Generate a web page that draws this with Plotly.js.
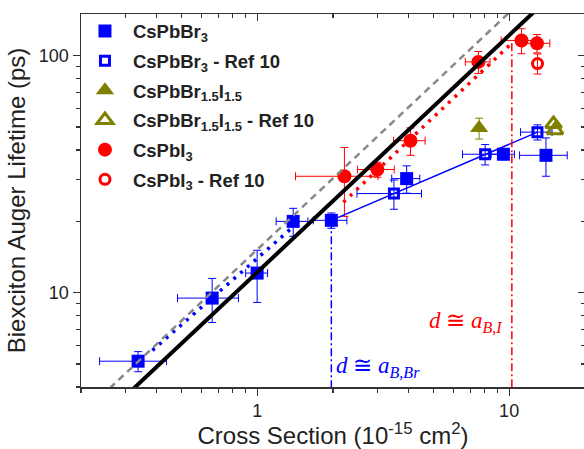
<!DOCTYPE html>
<html><head><meta charset="utf-8">
<script src="https://cdn.plot.ly/plotly-3.0.1.min.js"></script>
<style>html,body{margin:0;padding:0;overflow:hidden;background:#fff}#chart{width:590px;height:449px}</style>
</head><body><div id="chart"></div>
<script>
// ---- data ----
// CsPbBr3 (this work)
const brX    = [0.337, 0.663, 1.0, 1.39, 1.97, 3.92, 9.49, 14.0];
const brY    = [5.14, 9.49, 12.1, 20.0, 20.2, 30.3, 38.4, 38.0];
const brXerr = [0.10, 0.18, 0.10, 0.20, 0.30, 0.50, 1.0, 3.0];
const brYerr = [0.5, 2.0, 3.0, 2.7, 1.5, 4.0, 2.0, 7.0];
// CsPbBr3 - Ref 10
const brRefX    = [3.49, 8.03, 12.95];
const brRefY    = [26.2, 38.4, 47.6];
const brRefXerr = [1.0, 1.5, 1.85];
const brRefYerr = [3.7, 3.8, 3.5];
// CsPbBr1.5I1.5
const mixX = [7.6];
const mixY = [49.5];
const mixYerr = [5.0];
// CsPbBr1.5I1.5 - Ref 10
const mixRefX = [15.0, 15.2];
const mixRefY = [51.5, 48.5];
// CsPbI3
const iX    = [2.22, 3.0, 4.06, 7.55, 11.2, 12.9];
const iY    = [31.0, 33.1, 43.8, 94.2, 116.0, 112.8];
const iXerr = [0.8, 0.5, 0.58, 0.85, 1.9, 1.6];
const iYerr = [10, 2.4, 5.8, 10, 14, 10];
// CsPbI3 - Ref 10
const iRefX = [12.96];
const iRefY = [92.7];
const iRefYerr = [9];
// fit / guide lines (endpoints)
const grayX = [0.26, 10.0],  grayY = [3.95, 152];
const blackX = [0.32, 12.5], blackY = [3.9, 152.5];
const brDotX = [0.384, 1.4], brDotY = [5.71, 19.1];
const iDotX = [2.2, 10.25],  iDotY = [24.1, 113];
const brFitX = [1.97, 12.95], brFitY = [20.2, 47.6];
const brVX = [1.97, 1.97], brVY = [20.2, 3.9];
const iVX = [10.25, 10.25], iVY = [113, 3.9];
// axes
const xRange = [0.2, 20], yRange = [4, 150];
const xMajor = [1, 10], xMajorText = ['1', '10'];
const yMajor = [10, 100], yMajorText = ['10', '100'];
const xMinor = [0.2,0.3,0.4,0.5,0.6,0.7,0.8,0.9,2,3,4,5,6,7,8,9,20];
const yMinor = [4,5,6,7,8,9,20,30,40,50,60,70,80,90];
const names = ['CsPbBr<sub>3</sub>', 'CsPbBr<sub>3</sub> - Ref 10',
  'CsPbBr<sub>1.5</sub>I<sub>1.5</sub>', 'CsPbBr<sub>1.5</sub>I<sub>1.5</sub> - Ref 10',
  'CsPbI<sub>3</sub>', 'CsPbI<sub>3</sub> - Ref 10'];

const BLUE = '#0000ff', RED = '#ff0000', OLIVE = '#808000';
function eb(arr, color){ return {type:'data', array:arr, visible:true, color:color, thickness:1, width:4}; }

const traces = [
  {x:brX, y:brY, name:names[0], legendgroup:'a', mode:'markers', type:'scatter',
   marker:{symbol:'square', size:13, color:BLUE}, error_x:eb(brXerr,BLUE), error_y:eb(brYerr,BLUE)},
  {x:brRefX, y:brRefY, name:names[1], legendgroup:'b', mode:'markers', type:'scatter',
   marker:{symbol:'square-open', size:9, color:BLUE, line:{width:3, color:BLUE}}, error_x:eb(brRefXerr,BLUE), error_y:eb(brRefYerr,BLUE)},
  {x:mixX, y:mixY, name:names[2], legendgroup:'c', mode:'markers', type:'scatter',
   marker:{symbol:'triangle-up', size:16, color:OLIVE}, error_y:eb(mixYerr,OLIVE)},
  {x:mixRefX, y:mixRefY, name:names[3], legendgroup:'d', mode:'markers', type:'scatter',
   marker:{symbol:'triangle-up-open', size:14, color:OLIVE, line:{width:3, color:OLIVE}}},
  {x:iX, y:iY, name:names[4], legendgroup:'e', mode:'markers', type:'scatter',
   marker:{symbol:'circle', size:14, color:RED}, error_x:eb(iXerr,RED), error_y:eb(iYerr,RED)},
  {x:iRefX, y:iRefY, name:names[5], legendgroup:'f', mode:'markers', type:'scatter',
   marker:{symbol:'circle-open', size:10, color:RED, line:{width:3, color:RED}}, error_y:eb(iRefYerr,RED)},
  // guide lines on top
  {x:brFitX, y:brFitY, mode:'lines', showlegend:false, line:{color:BLUE, width:1.5}},
  {x:brVX, y:brVY, mode:'lines', showlegend:false, line:{color:BLUE, width:1.5, dash:'8px,3px,2px,3px'}},
  {x:iVX, y:iVY, mode:'lines', showlegend:false, line:{color:RED, width:1.5, dash:'8px,3px,2px,3px'}},
  {x:brDotX, y:brDotY, mode:'lines', showlegend:false, line:{color:BLUE, width:3.5, dash:'3px,6px'}},
  {x:iDotX, y:iDotY, mode:'lines', showlegend:false, line:{color:RED, width:3.5, dash:'3px,6px'}},
  {x:grayX, y:grayY, mode:'lines', showlegend:false, line:{color:'#888888', width:2.5, dash:'7px,5px'}},
  {x:blackX, y:blackY, mode:'lines', showlegend:false, line:{color:'#000000', width:4}},
  // carrier for mirrored tick axes
  {x:[brX[0]], y:[brY[0]], xaxis:'x2', yaxis:'y2', mode:'markers', showlegend:false, hoverinfo:'skip', marker:{opacity:0}}
];

const lg = v => Math.log10(v);
const axCommon = {type:'log', showgrid:false, zeroline:false, tickcolor:'#333', tickwidth:1.2};
const layout = {
  width:590, height:449,
  margin:{l:81, r:5, t:14, b:62, pad:0},
  paper_bgcolor:'#fff', plot_bgcolor:'#fff',
  font:{family:'Liberation Sans, Arial, sans-serif', color:'#222'},
  xaxis:Object.assign({}, axCommon, {
    range:[lg(xRange[0]), lg(xRange[1])],
    tickmode:'array', tickvals:xMajor, ticktext:xMajorText, ticks:'outside', ticklen:7,
    minor:{tickmode:'array', tickvals:xMinor, ticks:'outside', ticklen:4, tickcolor:'#333', tickwidth:1.2},
    showline:true, linecolor:'#333', linewidth:1.5, mirror:true,
    tickfont:{size:18, color:'#222'},
    title:{text:'Cross Section (10<sup>-15</sup> cm<sup>2</sup>)', font:{size:24, color:'#222'}, standoff:4}
  }),
  yaxis:Object.assign({}, axCommon, {
    range:[lg(yRange[0]), lg(yRange[1])],
    tickmode:'array', tickvals:yMajor, ticktext:yMajorText, ticks:'outside', ticklen:7,
    minor:{tickmode:'array', tickvals:yMinor, ticks:'outside', ticklen:4, tickcolor:'#333', tickwidth:1.2},
    showline:true, linecolor:'#333', linewidth:1.5, mirror:true,
    tickfont:{size:18, color:'#222'},
    title:{text:'Biexciton Auger Lifetime (ps)', font:{size:24, color:'#222'}, standoff:6}
  }),
  xaxis2:Object.assign({}, axCommon, {
    overlaying:'x', side:'top', anchor:'y', range:[lg(xRange[0]), lg(xRange[1])],
    tickmode:'array', tickvals:xMajor, ticks:'inside', ticklen:7, showticklabels:false, showline:false,
    minor:{tickmode:'array', tickvals:xMinor, ticks:'inside', ticklen:4, tickcolor:'#333', tickwidth:1.2}
  }),
  yaxis2:Object.assign({}, axCommon, {
    overlaying:'y', side:'right', anchor:'x', range:[lg(yRange[0]), lg(yRange[1])],
    tickmode:'array', tickvals:yMajor, ticks:'inside', ticklen:7, showticklabels:false, showline:false,
    minor:{tickmode:'array', tickvals:yMinor, ticks:'inside', ticklen:4, tickcolor:'#333', tickwidth:1.2}
  }),
  showlegend:true,
  legend:{x:-0.008, y:1.004, xanchor:'left', yanchor:'top', bgcolor:'rgba(0,0,0,0)', itemwidth:46,
    font:{family:'Liberation Sans, Arial, sans-serif', size:18.5, weight:'bold', color:'#222'},
    tracegroupgap:2.6, traceorder:'grouped'},
  annotations:[
    {xref:'paper', yref:'paper', x:0.502, y:0.0536, xanchor:'left', yanchor:'middle', showarrow:false,
     text:'<i>d</i> \u2245 <i>a</i><sub><i>B,Br</i></sub>', font:{family:'Liberation Serif, DejaVu Serif, serif', size:23, color:BLUE}},
    {xref:'paper', yref:'paper', x:0.686, y:0.174, xanchor:'left', yanchor:'middle', showarrow:false,
     text:'<i>d</i> \u2245 <i>a</i><sub><i>B,I</i></sub>', font:{family:'Liberation Serif, DejaVu Serif, serif', size:23, color:RED}}
  ]
};
Plotly.newPlot('chart', traces, layout, {displayModeBar:false, staticPlot:true});
</script></body></html>
